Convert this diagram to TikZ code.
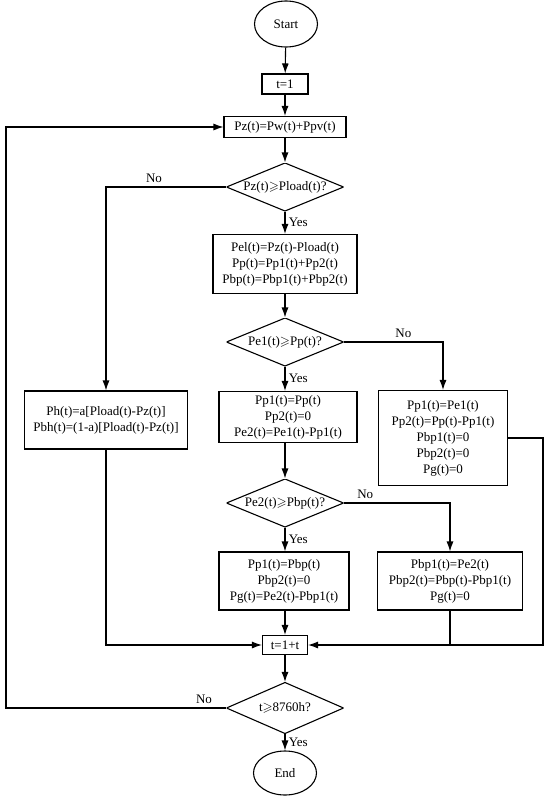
\documentclass[tikz,border=0pt]{standalone}
\usepackage{amssymb}
\usepackage{fontspec}
\setmainfont{Liberation Serif}
\usetikzlibrary{arrows.meta, shapes.geometric}

\begin{document}
\begin{tikzpicture}[x=1pt, y=-1pt, line width=1.1pt,
    font=\fontsize{13}{16}\selectfont,
    >={Latex[length=10pt, width=7pt]},
    box/.style={draw, rectangle, align=center, inner sep=1pt},
    term/.style={draw, ellipse, inner sep=0pt, minimum width=63pt, minimum height=46pt},
    test/.style={rectangle, inner sep=0pt, minimum width=117pt, minimum height=48pt,
        path picture={\draw[line width=1.1pt] (path picture bounding box.north)
            -- (path picture bounding box.east) -- (path picture bounding box.south)
            -- (path picture bounding box.west) -- cycle;}}]
    \useasboundingbox (0,0) rectangle (550,796);

    % Start and loop counter
    \node[term] (start) at (286,24) {Start};
    \node[box, minimum width=46pt, minimum height=20pt] (t1) at (285,84) {t=1};
    \node[box, minimum width=122pt, minimum height=21pt] (pz) at (285,127) {Pz(t)=Pw(t)+Ppv(t)};

    % First test
    \node[test] (d1) at (285,187) {Pz(t)$\geqslant$Pload(t)?};
    \node[box, minimum width=144pt, minimum height=59pt] (pel) at (285,264)
        {Pel(t)=Pz(t)-Pload(t)\\Pp(t)=Pp1(t)+Pp2(t)\\Pbp(t)=Pbp1(t)+Pbp2(t)};
    \node[box, minimum width=163pt, minimum height=58pt] (ph) at (106,420)
        {Ph(t)=a[Pload(t)-Pz(t)]\\Pbh(t)=(1-a)[Pload(t)-Pz(t)]};

    % Second test
    \node[test] (d2) at (285,342) {Pe1(t)$\geqslant$Pp(t)?};
    \node[box, minimum width=138pt, minimum height=51pt] (pp) at (288,417)
        {Pp1(t)=Pp(t)\\Pp2(t)=0\\Pe2(t)=Pe1(t)-Pp1(t)};
    \node[box, minimum width=129pt, minimum height=95pt] (r1) at (443,438)
        {Pp1(t)=Pe1(t)\\Pp2(t)=Pp(t)-Pp1(t)\\Pbp1(t)=0\\Pbp2(t)=0\\Pg(t)=0};

    % Third test
    \node[test] (d3) at (285,503) {Pe2(t)$\geqslant$Pbp(t)?};
    \node[box, minimum width=130pt, minimum height=58pt] (pb) at (284,581)
        {Pp1(t)=Pbp(t)\\Pbp2(t)=0\\Pg(t)=Pe2(t)-Pbp1(t)};
    \node[box, minimum width=145pt, minimum height=58pt] (r2) at (450,581)
        {Pbp1(t)=Pe2(t)\\Pbp2(t)=Pbp(t)-Pbp1(t)\\Pg(t)=0};

    % Next step and end
    \node[box, minimum width=45pt, minimum height=19pt] (tt) at (285,645) {t=1+t};
    \node[test, minimum height=51pt] (d4) at (285,708) {t$\geqslant$8760h?};
    \node[term, minimum height=44pt] (end) at (285,773) {End};

    \coordinate (rc) at (543,438);
    \coordinate (lb) at (6,708);

    % Connectors
    \draw[->] (start) -- (t1);
    \draw[->] (t1) -- (pz);
    \draw[->] (pz) -- (d1);
    \draw[->] (d1.south) -- node[right] {Yes} (pel);
    \draw[->] (d1.west) -| node[above, pos=0.3] {No} (ph.north);
    \draw[->] (pel) -- (d2);
    \draw[->] (d2.south) -- node[right] {Yes} (d2.south |- pp.north);
    \draw[->] (d2.east) -| node[above, pos=0.3] {No} (r1.north);
    \draw[->] (d2.south |- pp.south) -- (d3);
    \draw[->] (d3.south) -- node[right] {Yes} (d3.south |- pb.north);
    \draw[->] (d3.east) -| node[above, pos=0.1] {No} (r2.north);
    \draw[->] (d3.south |- pb.south) -- (tt);
    \draw[->] (ph.south) |- (tt.west);
    \draw[->] (r1.east) -- (rc) |- (tt.east);
    \draw (r2.south) -- (r2.south |- tt.east);
    \draw[->] (tt) -- (d4);
    \draw[->] (d4.south) -- node[right] {Yes} (end);
    \draw[->] (d4.west) -- node[above, pos=0.1] {No} (lb) |- (pz.west);
\end{tikzpicture}
\end{document}
